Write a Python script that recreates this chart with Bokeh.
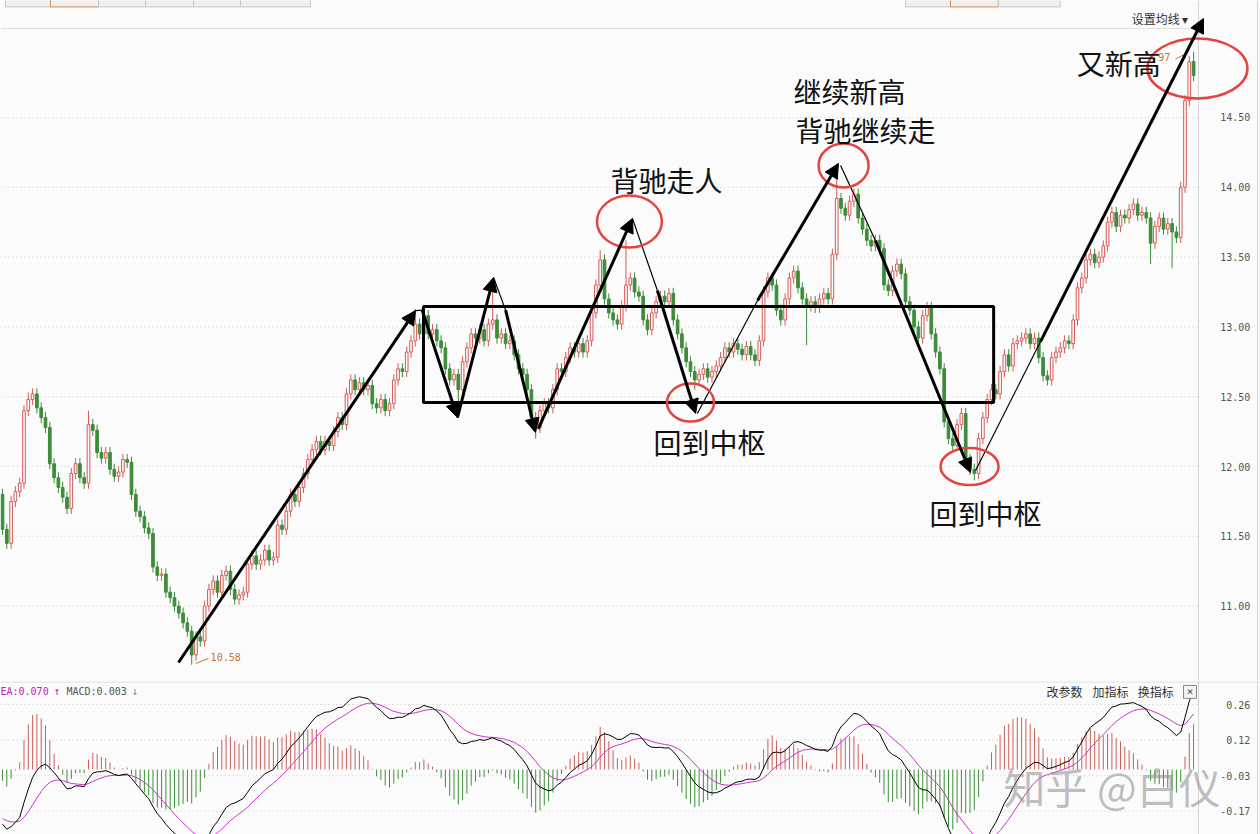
import numpy as np
from bokeh.plotting import figure
from bokeh.models import Range1d, Arrow, NormalHead, Label, Span
from bokeh.layouts import column
from bokeh.embed import file_html
from bokeh.resources import INLINE
from bokeh.core.properties import value

# ---------------- data ----------------
warmup_close = [13.00, 12.97, 12.99, 12.92, 12.88, 12.90, 12.83, 12.79, 12.81, 12.74,
                12.70, 12.72, 12.65, 12.60, 12.62, 12.55, 12.51, 12.54, 12.47, 12.42,
                12.44, 12.37, 12.33, 12.35, 12.28, 12.23, 12.25, 12.18, 12.13, 12.15,
                12.08, 12.03, 12.05, 11.98, 11.93, 11.95, 11.88, 11.84, 11.86, 11.80]

close = [
    11.55, 11.45, 11.75, 11.82, 11.88, 12.40, 12.48, 12.52, 12.42, 12.35,
    12.28, 12.02, 11.92, 11.85, 11.78, 11.70, 11.95, 12.02, 11.92, 11.88,
    12.30, 12.26, 12.10, 12.06, 12.10, 11.98, 11.93, 11.96, 12.05, 12.03,
    11.80, 11.68, 11.64, 11.56, 11.52, 11.28, 11.22, 11.23, 11.10, 11.06,
    11.00, 10.95, 10.88, 10.82, 10.65, 10.78, 10.75, 11.00, 11.12, 11.18,
    11.10, 11.22, 11.25, 11.12, 11.05, 11.08, 11.10, 11.30, 11.36, 11.30,
    11.33, 11.40, 11.33, 11.35, 11.58, 11.55, 11.68, 11.80, 11.75, 11.85,
    11.95, 12.05, 12.12, 12.18, 12.12, 12.18, 12.15, 12.25, 12.35, 12.30,
    12.52, 12.62, 12.55, 12.60, 12.55, 12.58, 12.45, 12.42, 12.48, 12.40,
    12.45, 12.62, 12.70, 12.68, 12.82, 12.90, 13.02, 12.95, 13.08, 12.95,
    12.98, 12.90, 12.85, 12.70, 12.62, 12.66, 12.55, 12.75, 12.85, 12.95,
    12.92, 12.98, 12.90, 13.02, 13.05, 12.92, 12.95, 12.88, 12.90, 12.80,
    12.70, 12.66, 12.55, 12.35, 12.28, 12.40, 12.45, 12.42, 12.55, 12.70,
    12.68, 12.78, 12.85, 12.82, 12.88, 12.82, 12.90, 13.10, 13.30, 13.48,
    13.20, 13.10, 13.05, 13.02, 13.15, 13.30, 13.35, 13.25, 13.22, 13.05,
    12.98, 13.10, 13.18, 13.22, 13.18, 13.24, 13.05, 12.95, 12.85, 12.75,
    12.68, 12.62, 12.66, 12.70, 12.64, 12.68, 12.72, 12.78, 12.85, 12.82,
    12.88, 12.84, 12.80, 12.86, 12.80, 12.76, 12.90, 13.25, 13.35, 13.30,
    13.12, 13.05, 13.20, 13.35, 13.40, 13.28, 13.20, 13.15, 13.18, 13.14,
    13.20, 13.24, 13.20, 13.52, 13.92, 13.85, 13.80, 13.90, 13.95, 13.78,
    13.70, 13.62, 13.58, 13.62, 13.56, 13.30, 13.26, 13.40, 13.45, 13.38,
    13.18, 13.12, 13.00, 12.92, 13.08, 13.14, 12.95, 12.82, 12.70, 12.32,
    12.20, 12.15, 12.30, 12.38, 12.05, 11.98, 11.95, 12.20, 12.35, 12.48,
    12.55, 12.52, 12.68, 12.80, 12.72, 12.88, 12.90, 12.92, 12.95, 12.88,
    12.92, 12.78, 12.65, 12.62, 12.78, 12.82, 12.85, 12.90, 12.88, 13.05,
    13.28, 13.35, 13.48, 13.52, 13.46, 13.50, 13.58, 13.75, 13.82, 13.72,
    13.80, 13.78, 13.84, 13.88, 13.80, 13.82, 13.78, 13.60, 13.72, 13.78,
    13.70, 13.74, 13.68, 13.64, 14.00, 14.62, 14.90, 14.80,
]

extreme_high = {6: 12.53, 20: 12.40, 96: 13.13, 114: 13.25, 139: 13.55, 145: 13.62,
                194: 14.17, 277: 14.97}
extreme_low = {1: 11.41, 44: 10.58, 106: 12.42, 124: 12.20, 161: 12.55, 187: 12.87,
               226: 11.90, 267: 13.45, 272: 13.42, 275: 14.41}

price_ticks = [11.0, 11.5, 12.0, 12.5, 13.0, 13.5, 14.0, 14.5]
price_tick_labels = ["11.00", "11.50", "12.00", "12.50", "13.00", "13.50", "14.00", "14.50"]
macd_ticks = [0.262, 0.119, -0.025, -0.168]
macd_tick_labels = ["0.26", "0.12", "-0.03", "-0.17"]

# ---------------- derived ----------------
n = len(close)
idx = np.arange(n)
cl = np.array(close)
op = np.array([warmup_close[-1]] + close[:-1])
hi = np.maximum(op, cl) + 0.04
lo = np.minimum(op, cl) - 0.04
for k, v in extreme_high.items():
    hi[k] = max(hi[k], v)
for k, v in extreme_low.items():
    lo[k] = min(lo[k], v)
up = cl >= op

def ema(a, span):
    out = np.empty_like(a)
    out[0] = a[0]
    k = 2.0 / (span + 1)
    for t in range(1, len(a)):
        out[t] = k * a[t] + (1 - k) * out[t - 1]
    return out

allc = np.array(warmup_close + close)
dif_all = ema(allc, 12) - ema(allc, 26)
dea_all = ema(dif_all, 9)
w = len(warmup_close)
dif = dif_all[w:]
dea = dea_all[w:]
hist = 2 * (dif - dea)

RED = "#d65a55"
GREEN = "#3d8c3a"
BG = "#fbfbfb"
CJK = "Noto Sans CJK SC"
MONO = "DejaVu Sans Mono"
XR = Range1d(-0.465, 292.56)   # 4.3 px per candle over the full 1260 px
AXIS_X = 278.14                 # price-axis line position (candle units)
LABEL_X = 290.2                 # right edge of tick labels
EDGE_X = 291.86

def base_fig(h, yr):
    f = figure(frame_width=1260, frame_height=h, x_range=XR, y_range=yr,
               output_backend="svg", toolbar_location=None,
               x_axis_location=None, y_axis_location=None,
               min_border_left=0, min_border_right=0, min_border_top=0, min_border_bottom=0,
               background_fill_color=BG, border_fill_color=BG, outline_line_color=None)
    f.xgrid.visible = False
    f.ygrid.visible = False
    return f

# ---------------- price panel ----------------
p = base_fig(681, Range1d(10.46, 15.338))
# dotted grid + axis line + tick labels (right-hand price scale)
p.segment(x0=-0.465, y0=price_ticks, x1=AXIS_X, y1=price_ticks, color="#c8c8c8",
          line_dash="1 3", line_width=1)
p.segment(x0=[AXIS_X, EDGE_X], y0=10.46, x1=[AXIS_X, EDGE_X], y1=15.338, color="#d4d4d4", line_width=1)
p.text(x=LABEL_X, y=price_ticks, text=price_tick_labels, text_font=value(MONO),
       text_font_size="10px", text_color="#555555", text_align="right", text_baseline="middle")

# top tab strip and top border line
tab_l = [0.70, 11.16, 22.33, 33.26, 44.42, 55.35, 210.0, 220.47, 231.6]
tab_r = [11.16, 22.33, 33.26, 44.42, 55.35, 71.63, 220.47, 231.6, 246.0]
tab_c = ["#c8c8c8", "#e08a4a", "#c8c8c8", "#c8c8c8", "#c8c8c8", "#c8c8c8", "#c8c8c8", "#e08a4a", "#c8c8c8"]
p.quad(left=tab_l, right=tab_r, top=15.345, bottom=15.292, fill_color="#efefef", line_color=tab_c)
p.segment(x0=[-0.465], y0=[15.1375], x1=[AXIS_X], y1=[15.1375], color="#e0e0e0", line_width=1)

# candles
iu, idn = idx[up], idx[~up]
p.segment(x0=iu, y0=lo[up], x1=iu, y1=hi[up], color=RED, line_width=1)
p.segment(x0=idn, y0=lo[~up], x1=idn, y1=hi[~up], color=GREEN, line_width=1)
p.vbar(x=iu, width=0.62, top=np.maximum(op, cl)[up], bottom=np.minimum(op, cl)[up],
       fill_color=BG, line_color=RED, line_width=1)
p.vbar(x=idn, width=0.62, top=np.maximum(op, cl)[~up], bottom=np.minimum(op, cl)[~up],
       fill_color=GREEN, line_color=GREEN, line_width=1)

# consolidation box
p.quad(left=97.9, right=230.5, top=13.146, bottom=12.458, fill_color=None,
       line_color="black", line_width=3)

# arrows
thick = [(40.93, 10.596, 96.05, 13.117),
         (97.6, 13.12, 105.8, 12.351),
         (105.8, 12.351, 114.2, 13.354),
         (117.0, 13.12, 123.95, 12.244),
         (124.6, 12.27, 146.5, 13.777),
         (152.3, 13.261, 161.2, 12.380),
         (175.6, 13.189, 194.4, 14.170),
         (203.0, 13.619, 225.1, 11.957),
         (241.4, 12.895, 279.3, 15.209)]
for x0, y0, x1, y1 in thick:
    p.add_layout(Arrow(end=NormalHead(size=14, fill_color="black", line_color="black", line_width=1),
                       x_start=x0, y_start=y0, x_end=x1, y_end=y1,
                       line_color="black", line_width=3))
thin = [(96.05, 13.117, 97.6, 13.12),
        (114.2, 13.354, 117.0, 13.12),
        (146.5, 13.777, 152.3, 13.261),
        (161.6, 12.38, 175.6, 13.189),
        (194.9, 14.156, 203.0, 13.619),
        (226.3, 11.971, 241.4, 12.895)]
p.segment(x0=[t[0] for t in thin], y0=[t[1] for t in thin], x1=[t[2] for t in thin],
          y1=[t[3] for t in thin], color="black", line_width=1.2)

# red ellipses
p.ellipse(x=[145.8, 160.0, 195.6, 224.9, 277.9], y=[13.755, 12.458, 14.156, 12.0, 14.851],
          width=[15.1, 10.93, 11.63, 13.49, 23.26], height=[0.3725, 0.272, 0.315, 0.265, 0.43],
          fill_color=None, line_color="#e2443f", line_width=2.5)

# big annotations
notes = [("背驰走人", 141.4, 14.049), ("继续新高", 183.95, 14.693), ("背驰继续走", 184.4, 14.407),
         ("回到中枢", 151.4, 12.179), ("回到中枢", 215.6, 11.670), ("又新高", 249.8, 14.887)]
for t, x, y in notes:
    p.add_layout(Label(x=x, y=y, text=t, text_font=CJK, text_font_size="28px",
                       text_color="#111111", text_baseline="middle"))

# small labels
p.add_layout(Label(x=48.4, y=10.632, text="10.58", text_font=MONO, text_font_size="10px",
                   text_color="#c8742c", text_baseline="middle"))
p.segment(x0=[44.9], y0=[10.589], x1=[47.9], y1=[10.625], color="#c8742c", line_width=1)
p.add_layout(Label(x=268.8, y=14.93, text="97", text_font=MONO, text_font_size="10px",
                   text_color="#c8742c", text_baseline="middle"))
p.segment(x0=[272.8], y0=[14.92], x1=[275.5], y1=[14.96], color="#c8742c", line_width=1)
p.add_layout(Label(x=262.6, y=15.209, text="设置均线 ▾", text_font=CJK, text_font_size="12px",
                   text_color="#333333", text_baseline="middle"))

# ---------------- MACD panel ----------------
q = base_fig(153, Range1d(-0.262, 0.355))
q.segment(x0=-0.465, y0=macd_ticks, x1=AXIS_X, y1=macd_ticks, color="#c8c8c8",
          line_dash="1 3", line_width=1)
q.segment(x0=[AXIS_X, EDGE_X], y0=-0.262, x1=[AXIS_X, EDGE_X], y1=0.355, color="#d4d4d4", line_width=1)
q.text(x=LABEL_X, y=macd_ticks, text=macd_tick_labels, text_font=value(MONO),
       text_font_size="10px", text_color="#555555", text_align="right", text_baseline="middle")
q.add_layout(Span(location=0.353, dimension="width", line_color="#d8d8d8", line_width=1))

hcol = ["#c8605c" if v >= 0 else "#3f8f3a" for v in hist]
q.segment(x0=idx, y0=np.zeros(n), x1=idx, y1=hist, color=hcol, line_width=1)
q.line(idx, dea, line_color="#cc33cc", line_width=1)
q.line(idx, dif, line_color="black", line_width=1)

q.add_layout(Label(x=-0.465, y=0.315, text="EA:0.070", text_font=MONO, text_font_size="10px",
                   text_color="#c020c0", text_baseline="middle"))
q.add_layout(Label(x=11.86, y=0.315, text="↑", text_font=MONO, text_font_size="11px",
                   text_color="#c020c0", text_baseline="middle"))
q.add_layout(Label(x=14.88, y=0.315, text="MACD:0.003", text_font=MONO, text_font_size="10px",
                   text_color="#555555", text_baseline="middle"))
q.add_layout(Label(x=30.0, y=0.315, text="↓", text_font=MONO, text_font_size="11px",
                   text_color="#888888", text_baseline="middle"))
for t, x in [("改参数", 242.8), ("加指标", 253.5), ("换指标", 264.0)]:
    q.add_layout(Label(x=x, y=0.315, text=t, text_font=CJK, text_font_size="12px",
                       text_color="#333333", text_baseline="middle"))
q.quad(left=274.65, right=277.67, top=0.339, bottom=0.287, fill_color="#f4f4f4", line_color="#888888")
q.add_layout(Label(x=276.16, y=0.313, text="×", text_font=MONO, text_font_size="11px",
                   text_color="#444444", text_baseline="middle", text_align="center"))
q.add_layout(Label(x=232.8, y=-0.0646, text="知乎 @白仪", text_font=CJK, text_font_size="42px",
                   text_color="#8a8a8a", text_alpha=0.55, text_baseline="middle"))

layout = column(p, q, spacing=0)
open("out.html", "w").write(file_html(layout, INLINE))
